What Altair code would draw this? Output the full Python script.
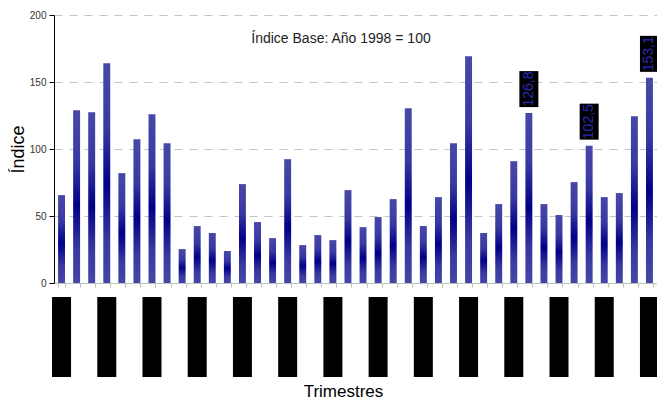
import altair as alt
import pandas as pd

years = [1998, 1999, 2000, 2001, 2002, 2003, 2004, 2005, 2006, 2007]
quarters = ["I", "II", "III", "IV"]
trimestres = [f"{q} Trim. {y}" for y in years for q in quarters]

indice = [65.6, 128.9, 127.5, 164.0, 82.0, 107.3, 126.0, 104.3,
          25.3, 42.5, 37.3, 23.9, 73.8, 45.5, 33.5, 92.4,
          28.3, 35.8, 32.0, 69.3, 41.7, 49.2, 62.6, 130.4,
          42.5, 64.1, 104.3, 169.2, 37.3, 58.9, 90.9, 126.8,
          58.9, 50.7, 75.3, 102.5, 64.1, 67.1, 124.5, 153.1]

# trimestres whose value is written above the bar
etiquetados = ["IV Trim. 2005", "IV Trim. 2006", "IV Trim. 2007"]
# every third trimestre carries an axis label
rotulados = trimestres[::3]

titulo = "Índice Base: Año 1998 = 100"

df = pd.DataFrame({"trimestre": trimestres, "indice": indice})
df["rotulo"] = [t if t in rotulados else "" for t in trimestres]
df["etiqueta"] = [t in etiquetados for t in trimestres]

W, H = 603, 268
FONT = "Liberation Sans"

xscale = alt.Scale(paddingInner=0.54, paddingOuter=0.27)
xenc = alt.X("trimestre:N", sort=trimestres, scale=xscale,
             axis=alt.Axis(labels=False, title="Trimestres", titleFontSize=17,
                           titleFont=FONT, titleFontWeight="normal",
                           titleColor="black", titlePadding=96, titleX=289,
                           tickBand="extent", domainColor="#bfbfbf",
                           tickColor="#bfbfbf", tickSize=4))
yenc = alt.Y("indice:Q", scale=alt.Scale(domain=[0, 200], nice=False),
             axis=alt.Axis(values=[0, 50, 100, 150, 200], title="Índice",
                           titleFontSize=18, titleFont=FONT,
                           titleFontWeight="normal", titleColor="black",
                           titlePadding=2, labelFont=FONT, labelFontSize=10,
                           labelColor="#333333", labelPadding=3,
                           domainColor="black", tickColor="black", tickSize=5,
                           grid=True, gridColor="#c4c4c4", gridDash=[8, 7],
                           gridWidth=1))

grad = alt.LinearGradient(
    gradient="linear", x1=0, y1=0, x2=0, y2=1,
    stops=[alt.GradientStop(color="#4848a8", offset=0),
           alt.GradientStop(color="#3838a2", offset=0.3),
           alt.GradientStop(color="#000088", offset=0.55),
           alt.GradientStop(color="#3838a0", offset=0.8),
           alt.GradientStop(color="#4646a6", offset=1)])

base = alt.Chart(df)

bars = base.mark_bar(color=grad).encode(x=xenc, y=yenc)

cajas = base.transform_filter("datum.etiqueta").mark_rect(
    color="black", width=19, yOffset=-6, y2Offset=-42
).encode(x=alt.X("trimestre:N", sort=trimestres), y="indice:Q", y2="indice:Q")

valores = base.transform_filter("datum.etiqueta").transform_calculate(
    txt="replace(format(datum.indice, '.1f'), '.', ',')"
).mark_text(angle=270, fontSize=14, font=FONT, color="#2a2ab4",
            align="center", baseline="middle", yOffset=-24).encode(
    x=alt.X("trimestre:N", sort=trimestres), y="indice:Q", text="txt:N")

rot_cajas = base.transform_filter("datum.rotulo != ''").mark_rect(
    color="black", width=19).encode(
    x=alt.X("trimestre:N", sort=trimestres),
    y=alt.value(H + 14), y2=alt.value(H + 94))

rot_textos = base.transform_filter("datum.rotulo != ''").mark_text(
    angle=270, align="right", baseline="middle", fontSize=12, font=FONT,
    color="black").encode(
    x=alt.X("trimestre:N", sort=trimestres), y=alt.value(H + 18),
    text="rotulo:N")

nota = alt.Chart(pd.DataFrame({"t": [titulo]})).mark_text(
    fontSize=14, font=FONT, color="#222222", align="center",
    baseline="middle").encode(x=alt.value(287), y=alt.value(24), text="t:N")

chart = alt.layer(rot_textos, rot_cajas, bars, cajas, valores, nota).properties(
    width=W, height=H,
    autosize=alt.AutoSizeParams(type="none"),
    padding={"left": 46, "top": 7, "right": 0, "bottom": 121},
).configure_view(stroke=None)

chart.save("out.html", embed_options={"renderer": "svg", "actions": False})
